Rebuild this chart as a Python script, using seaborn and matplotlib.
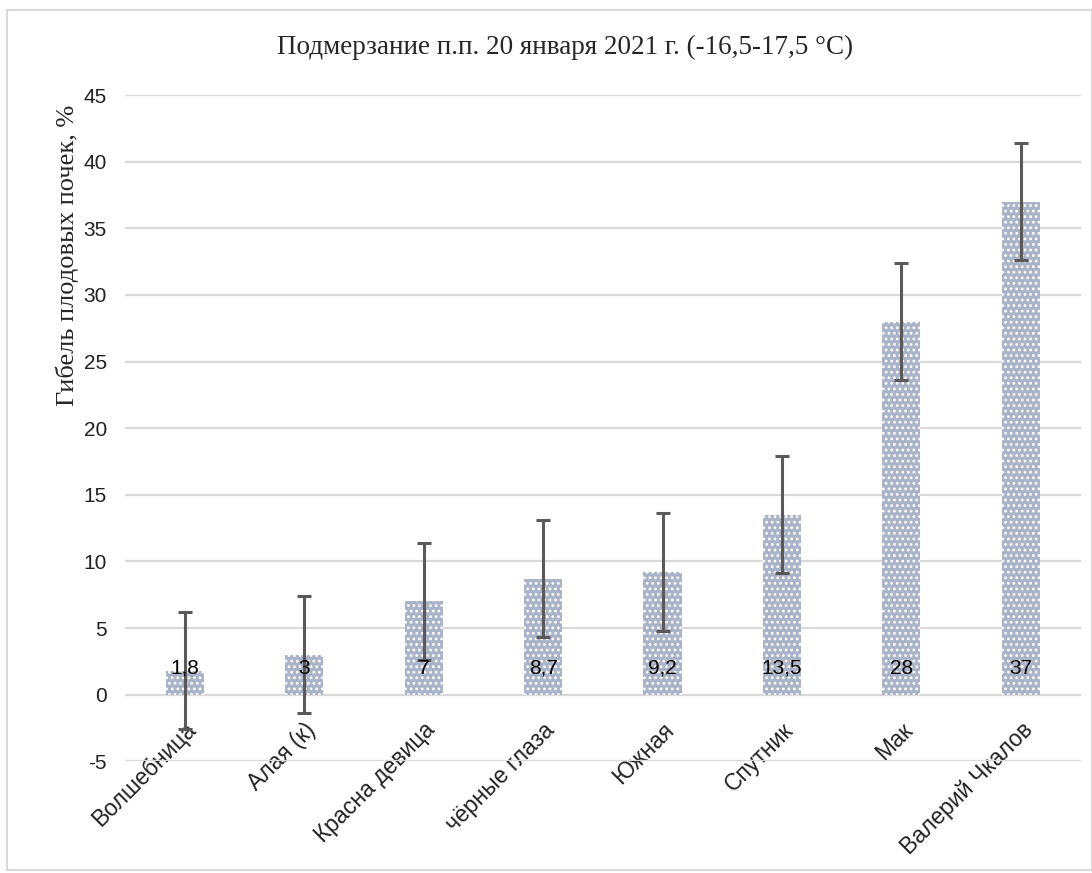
import numpy as np
import pandas as pd
import seaborn as sns
import matplotlib.pyplot as plt
from matplotlib.patches import Rectangle

# chart values
cultivars = ['Волшебница', 'Алая (к)', 'Красна девица', 'чёрные глаза',
             'Южная', 'Спутник', 'Мак', 'Валерий Чкалов']
damage = [1.8, 3, 7, 8.7, 9.2, 13.5, 28, 37]
labels = ['1,8', '3', '7', '8,7', '9,2', '13,5', '28', '37']
err = [4.4, 4.4, 4.4, 4.4, 4.4, 4.4, 4.4, 4.4]
yticks = [-5, 0, 5, 10, 15, 20, 25, 30, 35, 40, 45]

df = pd.DataFrame({'cultivar': cultivars, 'damage': damage})

sns.set_theme(style='white')
plt.rcParams['font.family'] = ['Liberation Sans', 'DejaVu Sans']
plt.rcParams['hatch.linewidth'] = 1.2

fig = plt.figure(figsize=(10.92, 8.73), dpi=100)
ax = fig.add_axes([0.1145, 0.128, 0.875, 0.763])

sns.barplot(data=df, x='cultivar', y='damage', color='#aab4c8', saturation=1,
            width=0.32, edgecolor='white', linewidth=0, hatch='...', ax=ax)

pos = np.arange(len(cultivars))
ax.errorbar(pos, damage, yerr=err, fmt='none', ecolor='#595959',
            elinewidth=2.2, capsize=4.8, capthick=2.2, zorder=4)

for p, lab in zip(pos, labels):
    ax.text(p, 2, lab, ha='center', va='center', fontsize=15, color='black', zorder=5)

ax.set_ylim(-5, 45)
ax.set_xlim(-0.5, len(cultivars) - 0.5)
ax.set_yticks(yticks)
ax.set_yticklabels([str(v) for v in yticks], fontsize=15, color='#222222')
ax.tick_params(axis='y', length=0, pad=13)
# category labels sit right under the zero line, like in Excel
ax.spines['bottom'].set_position(('data', 0))
ax.tick_params(axis='x', length=0, pad=17)
ax.set_xticks(pos)
ax.set_xticklabels(cultivars, rotation=45, ha='right', va='top',
                   rotation_mode='anchor', fontsize=16.5, color='#222222')
ax.yaxis.grid(True, color='#d9d9d9', linewidth=1.6)
ax.set_axisbelow(True)
for s in ax.spines.values():
    s.set_visible(False)
ax.set_xlabel('')
ax.set_ylabel('Гибель плодовых почек, %', family=['Liberation Serif'],
              fontsize=19, labelpad=4)
ax.yaxis.set_label_coords(-0.048, 0.76)

fig.text(0.517, 0.946, 'Подмерзание п.п. 20 января 2021 г. (-16,5-17,5 °С)',
         ha='center', va='center', family=['Liberation Serif'], fontsize=19.5)

fig.patches.append(Rectangle((0.006, 0.004), 0.994, 0.984, transform=fig.transFigure,
                             fill=False, edgecolor='#d9d9d9', linewidth=1.5))

fig.savefig('out.png', dpi=100)
